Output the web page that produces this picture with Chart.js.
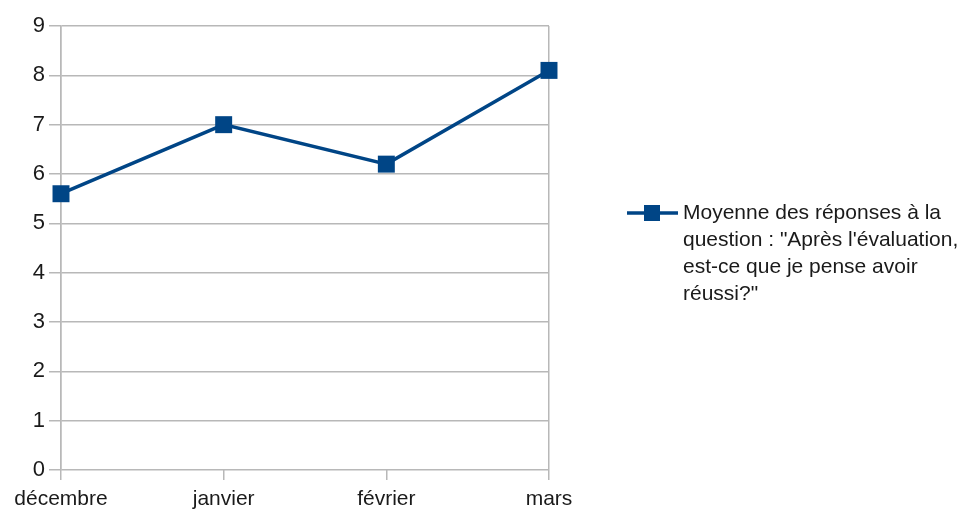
<!DOCTYPE html>
<html>
<head>
<meta charset="utf-8">
<script src="https://cdn.jsdelivr.net/npm/chart.js@4/dist/chart.umd.min.js"></script>
<style>
  html, body { margin: 0; padding: 0; background: #fff; }
  #wrap { width: 976px; height: 515px; position: relative; }
</style>
</head>
<body>
<div id="wrap"><canvas id="chart" width="976" height="515"></canvas></div>
<script>
// data
const months = ['décembre', 'janvier', 'février', 'mars'];
const moyenne = [5.6, 7.0, 6.2, 8.1];
const legendLines = [
  'Moyenne des réponses à la',
  'question : "Après l\'évaluation,',
  'est-ce que je pense avoir',
  'réussi?"'
];
const yTicks = [0, 1, 2, 3, 4, 5, 6, 7, 8, 9];

const BLUE = '#004586';
const GRID = '#b8b8b8';
const FONT = '"Liberation Sans", Arial, sans-serif';

// legend drawn at the right, multi-line text
const sideLegend = {
  id: 'sideLegend',
  afterDraw(chart) {
    const ctx = chart.ctx;
    const x0 = 627, y0 = 213;
    ctx.save();
    ctx.strokeStyle = BLUE;
    ctx.lineWidth = 3.5;
    ctx.beginPath();
    ctx.moveTo(x0, y0);
    ctx.lineTo(x0 + 51, y0);
    ctx.stroke();
    ctx.fillStyle = BLUE;
    ctx.fillRect(x0 + 25 - 8, y0 - 8, 16, 16);
    ctx.fillStyle = '#1a1a1a';
    ctx.font = '21px ' + FONT;
    ctx.textBaseline = 'middle';
    legendLines.forEach((t, i) => ctx.fillText(t, x0 + 56, y0 + i * 27));
    ctx.restore();
  }
};

new Chart(document.getElementById('chart').getContext('2d'), {
  type: 'line',
  data: {
    labels: months,
    datasets: [{
      label: legendLines.join(' '),
      data: moyenne,
      borderColor: BLUE,
      backgroundColor: BLUE,
      borderWidth: 3.5,
      pointStyle: 'rect',
      pointRadius: 12,
      pointBorderWidth: 0,
      pointBackgroundColor: BLUE,
      tension: 0,
      fill: false,
    }],
  },
  options: {
    responsive: false,
    animation: false,
    layout: { padding: { top: 26, right: 427, left: 0, bottom: 0 } },
    plugins: {
      legend: { display: false },
      tooltip: { enabled: false },
    },
    scales: {
      x: {
        offset: false,
        afterFit(scale) { scale.height = 45; },
        grid: {
          color: ctx => (ctx.index === 0 || ctx.index === months.length - 1) ? GRID : 'rgba(0,0,0,0)',
          tickColor: GRID,
          tickLength: 10,
          lineWidth: 1.5,
        },
        border: { display: false },
        ticks: { color: '#1a1a1a', font: { family: FONT, size: 21 }, padding: 7, maxRotation: 0 },
      },
      y: {
        min: 0,
        max: 9,
        afterFit(scale) { scale.width = 61; },
        afterBuildTicks(scale) { scale.ticks = yTicks.map(v => ({ value: v })); },
        grid: { color: GRID, tickColor: GRID, tickLength: 12, lineWidth: 1.5 },
        border: { color: GRID, width: 1.5 },
        ticks: { color: '#1a1a1a', font: { family: FONT, size: 22 }, padding: 4 },
      },
    },
  },
  plugins: [sideLegend],
});
</script>
</body>
</html>
